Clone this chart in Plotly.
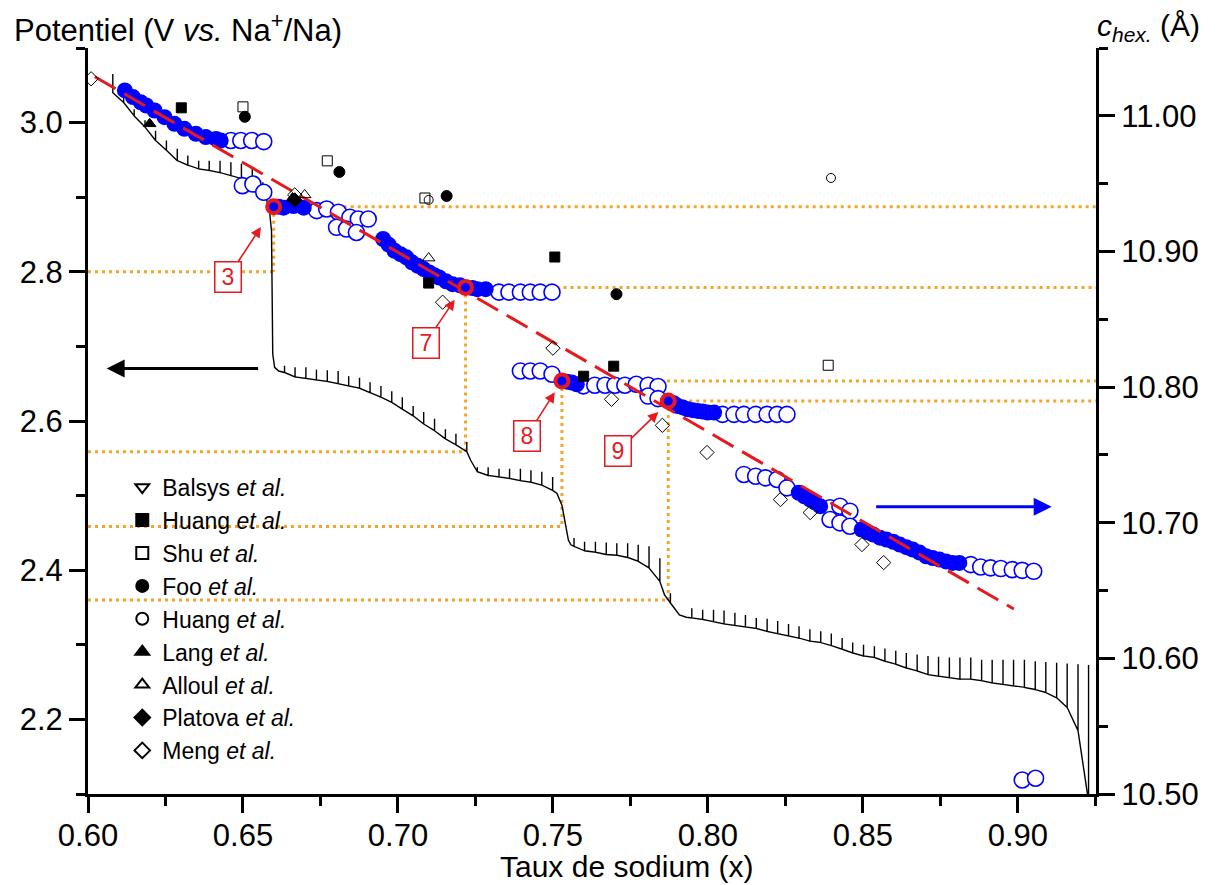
import plotly.graph_objects as go

# ---------------- GITT curve (left axis, V) ----------------
gitt_x = [0.6080, 0.6115, 0.6149, 0.6184, 0.6218, 0.6253, 0.6288, 0.6322, 0.6357, 0.6391,
          0.6426, 0.6461, 0.6495, 0.6530, 0.6564,
          0.6634, 0.6668, 0.6703, 0.6737, 0.6772, 0.6807, 0.6841, 0.6876, 0.6910, 0.6945,
          0.6980, 0.7014, 0.7049, 0.7083, 0.7118, 0.7153, 0.7187, 0.7222,
          0.7256, 0.7291, 0.7326, 0.7360, 0.7395, 0.7429, 0.7464, 0.7499,
          0.7568, 0.7602, 0.7637, 0.7672, 0.7706, 0.7741, 0.7775, 0.7810, 0.7845, 0.7879,
          0.7948, 0.7983, 0.8018, 0.8052, 0.8087, 0.8121, 0.8156, 0.8191, 0.8225, 0.8260,
          0.8294, 0.8329, 0.8364, 0.8398, 0.8433, 0.8467, 0.8502, 0.8537, 0.8571, 0.8606,
          0.8640, 0.8675, 0.8710, 0.8744, 0.8779, 0.8813, 0.8848, 0.8883, 0.8917, 0.8952,
          0.8986, 0.9021, 0.9056, 0.9090, 0.9125, 0.9159, 0.9194, 0.9228]
gitt_lo = [3.040, 3.027, 3.009, 2.994, 2.976, 2.963, 2.949, 2.943, 2.938, 2.936,
           2.933, 2.929, 2.925, 2.920, 2.907,
           2.665, 2.659, 2.657, 2.655, 2.653, 2.650, 2.647, 2.644, 2.638, 2.632,
           2.625, 2.616, 2.607, 2.596, 2.587, 2.576, 2.568, 2.559,
           2.532, 2.527, 2.525, 2.523, 2.520, 2.518, 2.514, 2.507,
           2.432, 2.426, 2.424, 2.421, 2.420, 2.417, 2.412, 2.403, 2.385, 2.356,
           2.336, 2.334, 2.331, 2.328, 2.326, 2.324, 2.322, 2.318, 2.315, 2.312,
           2.309, 2.305, 2.303, 2.299, 2.294, 2.289, 2.285, 2.283, 2.278, 2.274,
           2.269, 2.265, 2.260, 2.258, 2.256, 2.254, 2.254, 2.252, 2.249, 2.247,
           2.245, 2.243, 2.240, 2.236, 2.229, 2.216, 2.185, 2.090]
gitt_hi = [3.065, 3.036, 3.018, 3.003, 2.989, 2.976, 2.965, 2.956, 2.949, 2.949,
           2.949, 2.947, 2.945, 2.938, 2.920,
           2.674, 2.672, 2.672, 2.669, 2.668, 2.667, 2.660, 2.658, 2.652, 2.647,
           2.640, 2.632, 2.620, 2.612, 2.603, 2.589, 2.583, 2.572,
           2.538, 2.538, 2.536, 2.536, 2.536, 2.534, 2.532, 2.525,
           2.443, 2.438, 2.438, 2.437, 2.436, 2.436, 2.434, 2.432, 2.416, 2.369,
           2.349, 2.347, 2.347, 2.346, 2.343, 2.340, 2.336, 2.335, 2.332, 2.328,
           2.325, 2.321, 2.318, 2.315, 2.309, 2.303, 2.300, 2.298, 2.295, 2.292,
           2.289, 2.287, 2.285, 2.284, 2.283, 2.283, 2.283, 2.280, 2.280, 2.280,
           2.280, 2.280, 2.278, 2.277, 2.276, 2.275, 2.274, 2.273]
step_x = [0.6575, 0.6586, 0.6592, 0.6594, 0.6596, 0.6602, 0.6615,
          0.7235, 0.7251,
          0.7513, 0.7529, 0.7534, 0.7540, 0.7550, 0.7558,
          0.7849, 0.7860, 0.7890, 0.7908, 0.7930]
step_y = [2.899, 2.880, 2.855, 2.780, 2.690, 2.672, 2.667,
          2.547, 2.534,
          2.503, 2.487, 2.476, 2.463, 2.440, 2.434,
          2.380, 2.367, 2.350, 2.340, 2.337]

# ---------------- c_hex (right axis, Angstrom) ----------------
fill_x = [0.6119, 0.6145, 0.6170, 0.6188, 0.6215, 0.6247, 0.6279, 0.6311, 0.6348, 0.6380, 0.6413, 0.6428,
          0.6615, 0.6631, 0.6663, 0.6696,
          0.6952, 0.6970, 0.6989, 0.7008, 0.7027, 0.7045, 0.7064, 0.7083, 0.7101, 0.7117, 0.7133,
          0.7155, 0.7176, 0.7200, 0.7240, 0.7256, 0.7283,
          0.7545, 0.7561, 0.7577,
          0.7890, 0.7903, 0.7919, 0.7935, 0.7951, 0.7967, 0.7983, 0.7999, 0.8020,
          0.8293, 0.8311, 0.8330, 0.8345, 0.8362,
          0.8496, 0.8515, 0.8533, 0.8555, 0.8576, 0.8598, 0.8619, 0.8640, 0.8661, 0.8683,
          0.8704, 0.8725, 0.8747, 0.8768, 0.8789, 0.8811]
fill_c = [11.0187, 11.0138, 11.0100, 11.0076, 11.0039, 10.9990, 10.9941, 10.9904, 10.9867, 10.9843, 10.9830, 10.9818,
          10.9330, 10.9323, 10.9335, 10.9323,
          10.9092, 10.9050, 10.9005, 10.8980, 10.8957, 10.8920, 10.8894, 10.8870, 10.8845, 10.8825, 10.8808,
          10.8780, 10.8759, 10.8750, 10.8730, 10.8722, 10.8722,
          10.8040, 10.8033, 10.8021,
          10.7880, 10.7860, 10.7850, 10.7836, 10.7830, 10.7824, 10.7820, 10.7812, 10.7812,
          10.7221, 10.7195, 10.7171, 10.7150, 10.7122,
          10.6950, 10.6930, 10.6913, 10.6890, 10.6876, 10.6860, 10.6839, 10.6820, 10.6802, 10.6780,
          10.6753, 10.6740, 10.6728, 10.6715, 10.6704, 10.6704]
open_x = [0.6461, 0.6493, 0.6528, 0.6567,
          0.6498, 0.6532, 0.6567,
          0.6738, 0.6770, 0.6808, 0.6845, 0.6872, 0.6904, 0.6802, 0.6834, 0.6866,
          0.7326, 0.7358, 0.7395, 0.7427, 0.7459, 0.7497,
          0.7395, 0.7427, 0.7459, 0.7497,
          0.7598, 0.7635, 0.7668, 0.7700, 0.7732, 0.7769, 0.7807, 0.7839, 0.7807, 0.7839,
          0.8047, 0.8084, 0.8116, 0.8154, 0.8191, 0.8223, 0.8255,
          0.8116, 0.8154, 0.8186, 0.8223, 0.8255,
          0.8394, 0.8426, 0.8458, 0.8394, 0.8426, 0.8458,
          0.8848, 0.8880, 0.8912, 0.8945, 0.8982, 0.9014, 0.9051,
          0.9014, 0.9057]
open_c = [10.9818, 10.9818, 10.9818, 10.9810,
          10.9485, 10.9497, 10.9436,
          10.9301, 10.9313, 10.9289, 10.9252, 10.9239, 10.9239, 10.9178, 10.9165, 10.9140,
          10.8700, 10.8700, 10.8700, 10.8700, 10.8700, 10.8700,
          10.8119, 10.8119, 10.8119, 10.8095,
          10.8009, 10.8014, 10.8014, 10.8014, 10.8014, 10.8021, 10.8014, 10.8004, 10.7934, 10.7915,
          10.7799, 10.7799, 10.7799, 10.7799, 10.7799, 10.7799, 10.7799,
          10.7356, 10.7343, 10.7331, 10.7319, 10.7257,
          10.7110, 10.7122, 10.7085, 10.7024, 10.6999, 10.6974,
          10.6691, 10.6674, 10.6667, 10.6662, 10.6654, 10.6649, 10.6642,
          10.5103, 10.5116]

# linear trend (red dashed)
fit_x = [0.6022, 0.8987]
fit_c = [11.0288, 10.6364]

# highlighted points 3, 7, 8, 9
ring_labels = ["3", "7", "8", "9"]
ring_x = [0.6599, 0.7218, 0.7529, 0.7872]
ring_c = [10.9330, 10.8735, 10.8045, 10.7897]
ring_v = [2.800, 2.5587, 2.4587, 2.360]       # potential reached on the GITT curve
callout_x = [0.6558, 0.7183, 0.7506, 0.7840]  # arrow tips
callout_v = [2.860, 2.7627, 2.6387, 2.612]
callout_dx = [-33, -29, -28, -40]
callout_dy = [50, 43, 44, 39]

# axis-direction arrows: tip position (left-axis units) and tail offset in px
arrow_x = [0.6060, 0.9109]
arrow_v = [2.6703, 2.4850]
arrow_dx = [153, -177]

# literature data (right axis)
lit_names = ["Balsys <i>et al.</i>", "Huang <i>et al.</i>", "Shu <i>et al.</i>", "Foo <i>et al.</i>",
             "Huang <i>et al.</i>", "Lang <i>et al.</i>", "Alloul <i>et al.</i>",
             "Platova <i>et al.</i>", "Meng <i>et al.</i>"]
lit_symbols = ["triangle-down-open", "square", "square-open", "circle", "circle-open",
               "triangle-up", "triangle-up-open", "diamond", "diamond-open"]
lit_sizes = [11, 10, 10, 11, 9, 11, 11, 11, 11]
balsys_x, balsys_c = [None], [None]   # listed in the legend, no point visible
huang1_x = [0.6301, 0.7099, 0.7506, 0.7696, 0.7599]
huang1_c = [11.0059, 10.8767, 10.8959, 10.8154, 10.8080]
shu_x = [0.6500, 0.6772, 0.7087, 0.8388]
shu_c = [11.0066, 10.9668, 10.9394, 10.8161]
foo_x = [0.6506, 0.6811, 0.7157, 0.7705]
foo_c = [10.9993, 10.9586, 10.9409, 10.8685]
huang2_x = [0.7099, 0.8397]
huang2_c = [10.9380, 10.9542]
lang_x = [0.6199, 0.6660]
lang_c = [10.9941, 10.9394]
alloul_x = [0.6699, 0.7099]
alloul_c = [10.9417, 10.8951]
platova_x = [0.6667]
platova_c = [10.9380]
meng_x = [0.6010, 0.6667, 0.7144, 0.7500, 0.7689, 0.7853, 0.7997, 0.8234, 0.8330, 0.8497, 0.8567]
meng_c = [11.0273, 10.9417, 10.8626, 10.8287, 10.7910, 10.7718, 10.7518, 10.7171, 10.7075, 10.6839, 10.6706]
lit_x = [balsys_x, huang1_x, shu_x, foo_x, huang2_x, lang_x, alloul_x, platova_x, meng_x]
lit_c = [balsys_c, huang1_c, shu_c, foo_c, huang2_c, lang_c, alloul_c, platova_c, meng_c]

# axis ranges
X_RANGE = [0.6, 0.9252]
V_RANGE = [2.1, 3.1]
C_RANGE = [10.5, 11.05]

BLUE = "rgb(0,0,255)"
RED = "rgb(230,25,30)"
ORANGE = "rgb(242,165,40)"
FONT = "Arial, 'Liberation Sans', Arimo, sans-serif"


def c_to_v(c):
    return V_RANGE[0] + (c - C_RANGE[0]) / (C_RANGE[1] - C_RANGE[0]) * (V_RANGE[1] - V_RANGE[0])


fig = go.Figure()

# orange dotted guide lines (on left axis)
gx, gy = [], []
for x, c, v in zip(ring_x, ring_c, ring_v):
    cv = c_to_v(c)
    gx += [x, X_RANGE[1], None, x, x, None, X_RANGE[0], x, None]
    gy += [cv, cv, None, cv, v, None, v, v, None]
fig.add_trace(go.Scatter(x=gx, y=gy, mode="lines", showlegend=False, hoverinfo="skip",
                         line=dict(color=ORANGE, width=3, dash="3px,4px")))

# GITT curve
pts = []
for x, lo, hi in zip(gitt_x, gitt_lo, gitt_hi):
    pts += [(x, lo), (x, hi), (x, lo)]
for x, y in zip(step_x, step_y):
    pts.append((x, y))
pts.sort(key=lambda p: p[0])
fig.add_trace(go.Scatter(x=[p[0] for p in pts], y=[p[1] for p in pts], mode="lines",
                         showlegend=False, line=dict(color="black", width=1.4)))

# c_hex data
fig.add_trace(go.Scatter(x=open_x, y=open_c, yaxis="y2", mode="markers", showlegend=False,
                         marker=dict(symbol="circle", size=16, color="white",
                                     line=dict(color=BLUE, width=1.6))))
fig.add_trace(go.Scatter(x=fill_x, y=fill_c, yaxis="y2", mode="markers", showlegend=False,
                         marker=dict(symbol="circle", size=16, color=BLUE,
                                     line=dict(color=BLUE, width=0))))
fig.add_trace(go.Scatter(x=fit_x, y=fit_c, yaxis="y2", mode="lines", showlegend=False,
                         line=dict(color=RED, width=3, dash="24px,10px")))

# literature
for name, sym, sz, xs, cs in zip(lit_names, lit_symbols, lit_sizes, lit_x, lit_c):
    fig.add_trace(go.Scatter(x=xs, y=cs, yaxis="y2", mode="markers", name=name,
                             marker=dict(symbol=sym, size=sz, color="black",
                                         line=dict(color="black", width=1))))

# highlighted rings
fig.add_trace(go.Scatter(x=ring_x, y=ring_c, yaxis="y2", mode="markers", showlegend=False,
                         marker=dict(symbol="circle", size=13, color=BLUE,
                                     line=dict(color=RED, width=4))))

annotations = []
for lab, x, v, dx, dy in zip(ring_labels, callout_x, callout_v, callout_dx, callout_dy):
    annotations.append(dict(x=x, y=v, xref="x", yref="y", text=lab, showarrow=True,
                            ax=dx, ay=dy, arrowcolor=RED, arrowwidth=1.6, arrowhead=2,
                            arrowsize=1.3, standoff=0,
                            font=dict(family=FONT, size=23, color=RED),
                            bordercolor=RED, borderwidth=1.5, borderpad=2,
                            bgcolor="white", width=21, height=25))

for x, v, dx, col in zip(arrow_x, arrow_v, arrow_dx, ["black", BLUE]):
    annotations.append(dict(x=x, y=v, xref="x", yref="y", text="", showarrow=True,
                            ax=dx, ay=0, arrowcolor=col, arrowwidth=3, arrowhead=2,
                            arrowsize=1.2, standoff=0))

# titles
annotations.append(dict(text="Potentiel (V <i>vs.</i> Na<sup>+</sup>/Na)", xref="paper", yref="paper",
                        x=-0.075, y=1.027, xanchor="left", yanchor="middle", showarrow=False,
                        font=dict(family=FONT, size=31, color="black")))
annotations.append(dict(text="<i>c</i><sub><i>hex.</i></sub> (Å)", xref="paper", yref="paper",
                        x=0.999, y=1.027, xanchor="left", yanchor="middle", showarrow=False,
                        font=dict(family=FONT, size=30, color="black")))
annotations.append(dict(text="Taux de sodium (x)", xref="paper", yref="paper",
                        x=0.534, y=-0.0975, xanchor="center", yanchor="middle", showarrow=False,
                        font=dict(family=FONT, size=30, color="black")))

axis_common = dict(showline=True, linewidth=3, linecolor="black", ticks="outside",
                   ticklen=16, tickwidth=3, tickcolor="black", showgrid=False, zeroline=False,
                   tickfont=dict(family=FONT, size=31, color="black"))

# the page adds an 8 px body margin, so the figure is 8 px smaller and margins shifted
fig.update_layout(
    width=1211, height=877, autosize=False,
    margin=dict(l=75, r=123, t=40, b=91),
    paper_bgcolor="white", plot_bgcolor="white",
    font=dict(family=FONT, color="black"),
    xaxis=dict(range=X_RANGE, dtick=0.05, tick0=0.6, tickformat=".2f", ticklabelstandoff=-4,
               minor=dict(ticks="outside", ticklen=9, tickwidth=3, tickcolor="black", dtick=0.025),
               **axis_common),
    yaxis=dict(range=V_RANGE, dtick=0.2, tick0=2.2, tickformat=".1f",
               minor=dict(ticks="outside", ticklen=9, tickwidth=3, tickcolor="black", dtick=0.1),
               **axis_common),
    yaxis2=dict(range=C_RANGE, dtick=0.1, tick0=10.5, tickformat=".2f", overlaying="y", side="right",
                minor=dict(ticks="outside", ticklen=9, tickwidth=3, tickcolor="black", dtick=0.05),
                **axis_common),
    legend=dict(x=0.034, y=0.44, xanchor="left", yanchor="top", bgcolor="rgba(0,0,0,0)",
                font=dict(family=FONT, size=23, color="black"), tracegroupgap=0,
                traceorder="normal", itemsizing="constant"),
    annotations=annotations,
    showlegend=True,
)

fig.write_html("out.html")
